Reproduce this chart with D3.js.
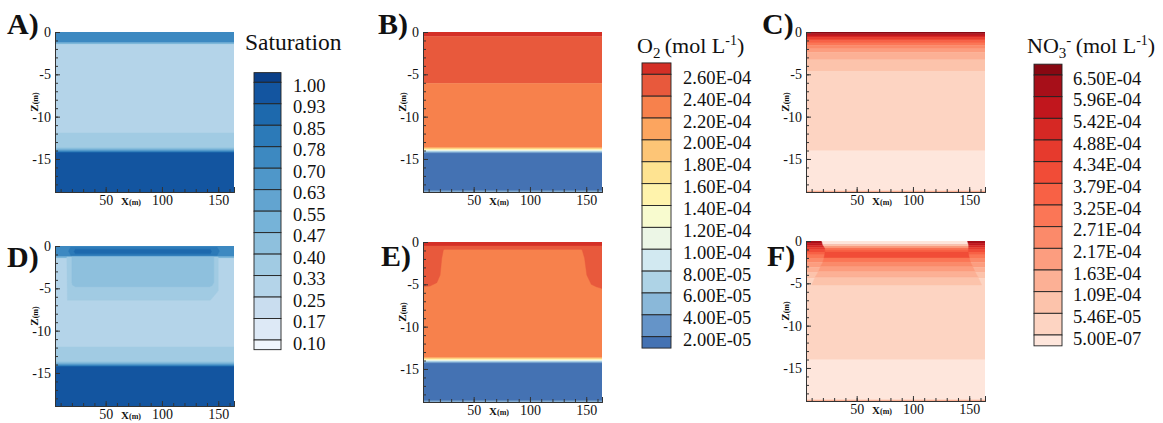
<!DOCTYPE html>
<html lang="en">
<head>
    <meta charset="utf-8">
    <title>Saturation, O2 and NO3 profiles</title>
    <script type="text/javascript" src="https://d3js.org/d3.v7.min.js"></script>
    <style type="text/css">
        body { margin: 0; background: #fff; }
        svg text { font-family: "Liberation Serif", "DejaVu Serif", "Times New Roman", serif !important; fill: #111; }
    </style>
</head>
<body>
    <script type="text/javascript">

        const width = 1163;
        const height = 423;
        const serif = '"Liberation Serif", "DejaVu Serif", serif';

        const xDomain = [5, 164];
        const zDomain = [-18.9, 0];
        const panelW = 179, panelH = 160;

        // legend levels (top to bottom, as printed)
        const satLabels = ["1.00", "0.93", "0.85", "0.78", "0.70", "0.63", "0.55", "0.47", "0.40", "0.33", "0.25", "0.17", "0.10"];
        const o2Labels = ["2.60E-04", "2.40E-04", "2.20E-04", "2.00E-04", "1.80E-04", "1.60E-04", "1.40E-04", "1.20E-04", "1.00E-04", "8.00E-05", "6.00E-05", "4.00E-05", "2.00E-05"];
        const no3Labels = ["6.50E-04", "5.96E-04", "5.42E-04", "4.88E-04", "4.34E-04", "3.79E-04", "3.25E-04", "2.71E-04", "2.17E-04", "1.63E-04", "1.09E-04", "5.46E-05", "5.00E-07"];

        // fill colours, lowest class first
        const satColors = ["#f1f6fc", "#dde9f6", "#c9ddef", "#b4d4e9", "#a1cbe3", "#8ec0dd", "#76b3d8", "#62a4d0", "#4f97c9", "#3d89c1", "#2c7ab8", "#1d69ad", "#1355a0", "#0a3f88"];
        const o2Colors = ["#4472b3", "#6594c8", "#8ab8d9", "#aed3e6", "#d2e9f1", "#ecf6e6", "#f8fbcf", "#fff3ac", "#fee391", "#fdc576", "#fca55f", "#f7814c", "#e8593c", "#d42f26"];
        const no3Colors = ["#fee6dc", "#fdd4c2", "#fcc3ab", "#fcb095", "#fc9d7f", "#fb8a6a", "#fb7656", "#f86145", "#f14c37", "#e63a2d", "#d62824", "#c1161d", "#a70f19", "#880812"];

        // depth layers: top of each band (m) and the value in it
        const satA_z = [0, -1.2, -1.3, -1.38, -1.46, -11.9, -13.65, -13.75, -13.85, -13.95, -14.05, -14.15, -14.25];
        const satA_v = [0.74, 0.60, 0.50, 0.43, 0.30, 0.36, 0.43, 0.50, 0.58, 0.66, 0.74, 0.88, 0.97];

        const o2B_z = [0, -0.5, -6.05, -13.6, -13.7, -13.77, -13.84, -13.9, -13.96, -14.02, -14.08, -14.14, -14.2, -14.3, -18.75, -18.85];
        const o2B_v = [2.65e-4, 2.5e-4, 2.3e-4, 2.1e-4, 1.9e-4, 1.7e-4, 1.5e-4, 1.3e-4, 1.1e-4, 9e-5, 7e-5, 5e-5, 3e-5, 1e-5, 6e-5, 1e-5];

        const no3C_z = [0, -0.15, -0.3, -0.45, -0.6, -0.8, -1.0, -1.25, -1.55, -1.95, -2.4, -3.25, -4.6, -14.0, -18.75];
        const no3C_v = [6.6e-4, 6.2e-4, 5.7e-4, 5.1e-4, 4.6e-4, 4.1e-4, 3.5e-4, 3.0e-4, 2.4e-4, 1.9e-4, 1.4e-4, 8e-5, 3e-5, 1e-7, 1.4e-4];

        const satD_z = satA_z;
        const satD_v = satA_v;
        const satD_patches = [
            { v: 0.36, pts: [[15.5, -1.3], [150, -1.3], [150, -5.3], [143, -6.4], [16, -6.4]] },
            { v: 0.44, pts: [[20, -1.3], [146, -1.3], [146, -4.3], [144.5, -4.7], [142, -4.8], [23, -4.8], [20.5, -4.6], [20, -4.3]] },
            { v: 0.81, pts: [[19, -0.15], [149, -0.15], [151, -0.6], [149, -1.1], [19, -1.1], [17, -0.6]] },
            { v: 0.88, pts: [[23, -0.4], [143, -0.4], [144, -0.65], [143, -0.9], [23, -0.9], [22, -0.65]] }
        ];

        const o2E_z = [0, -0.45, -0.9, -13.6, -13.7, -13.77, -13.84, -13.9, -13.96, -14.02, -14.08, -14.14, -14.2, -14.3, -18.75, -18.85];
        const o2E_v = [2.65e-4, 2.5e-4, 2.3e-4, 2.1e-4, 1.9e-4, 1.7e-4, 1.5e-4, 1.3e-4, 1.1e-4, 9e-5, 7e-5, 5e-5, 3e-5, 1e-5, 6e-5, 1e-5];
        const o2E_patches = [
            { v: 2.5e-4, pts: [[5, -0.6], [24, -0.6], [23, -1.0], [21.7, -1.9], [20.2, -3.9], [17.3, -4.8], [11.3, -5.2], [5, -5.3]] },
            { v: 2.5e-4, pts: [[145, -0.6], [164, -0.6], [164, -5.5], [158.9, -5.3], [154.4, -5.0], [150.5, -3.9], [148.5, -1.9], [146.4, -0.95]] }
        ];

        // F: profile at the side walls, then the band structure in the middle
        const no3F_z = [0, -0.25, -0.5, -0.75, -1.0, -1.3, -1.6, -2.0, -2.5, -3.1, -3.7, -4.4, -14.0, -18.75];
        const no3F_v = [6.2e-4, 5.7e-4, 5.1e-4, 4.6e-4, 4.1e-4, 3.5e-4, 3.0e-4, 2.4e-4, 1.9e-4, 1.4e-4, 8e-5, 3e-5, 1e-7, 1.4e-4];
        const no3Fmid_z = [0, -0.45, -0.65, -0.85, -1.05, -1.3, -2.0, -2.5, -3.0, -3.6, -4.3, -5.2];
        const no3Fmid_v = [1e-7, 8e-5, 1.9e-4, 3.0e-4, 3.5e-4, 4.1e-4, 3.0e-4, 2.4e-4, 1.9e-4, 1.4e-4, 8e-5];
        const no3Fmid_xl = [19, 20, 21, 22, 22, 22, 21, 20, 18, 16, 13, 10];
        const no3Fmid_xr = [148, 149, 149, 149, 149, 149, 150, 151, 153, 155, 158, 161];

        const no3F_patches = no3Fmid_v.map((v, i) => ({
            v: v,
            pts: [[no3Fmid_xl[i], no3Fmid_z[i]], [no3Fmid_xr[i], no3Fmid_z[i]],
                  [no3Fmid_xr[i + 1], no3Fmid_z[i + 1]], [no3Fmid_xl[i + 1], no3Fmid_z[i + 1]]]
        }));

        // Colour scales
        const satColor = d3.scaleThreshold().domain(satLabels.map(Number).reverse()).range(satColors);
        const o2Color = d3.scaleThreshold().domain(o2Labels.map(Number).reverse()).range(o2Colors);
        const no3Color = d3.scaleThreshold().domain(no3Labels.map(Number).reverse()).range(no3Colors);

        const panels = [
            { name: "A", left: 55, top: 32, labelX: 7, labelY: 34, color: satColor, z: satA_z, v: satA_v, patches: [] },
            { name: "B", left: 423, top: 32, labelX: 378, labelY: 34, color: o2Color, z: o2B_z, v: o2B_v, patches: [] },
            { name: "C", left: 806, top: 32, labelX: 762, labelY: 34, color: no3Color, z: no3C_z, v: no3C_v, patches: [] },
            { name: "D", left: 55, top: 246, labelX: 7, labelY: 267, color: satColor, z: satD_z, v: satD_v, patches: satD_patches },
            { name: "E", left: 423, top: 242, labelX: 381, labelY: 266, color: o2Color, z: o2E_z, v: o2E_v, patches: o2E_patches },
            { name: "F", left: 806, top: 241, labelX: 767, labelY: 266, color: no3Color, z: no3F_z, v: no3F_v, patches: no3F_patches }
        ];

        // SVG
        const svg = d3.select("body")
                    .append("svg")
                    .attr("width", width)
                    .attr("height", height)
                    .attr("font-family", serif);

        panels.forEach(p => {
            const xScale = d3.scaleLinear().domain(xDomain).range([p.left, p.left + panelW]);
            const yScale = d3.scaleLinear().domain(zDomain).range([p.top + panelH, p.top]);

            svg.append("clipPath").attr("id", "clip" + p.name)
                .append("rect")
                .attr("x", p.left).attr("y", p.top)
                .attr("width", panelW).attr("height", panelH);

            const g = svg.append("g").attr("clip-path", `url(#clip${p.name})`);

            const bands = p.z.map((t, i) => ({ top: t, bot: i < p.z.length - 1 ? p.z[i + 1] : zDomain[0], v: p.v[i] }));

            g.selectAll("rect")
                .data(bands)
                .enter()
                .append("rect")
                .attr("x", xScale(xDomain[0]))
                .attr("width", xScale(xDomain[1]) - xScale(xDomain[0]))
                .attr("y", d => yScale(d.top))
                .attr("height", d => yScale(d.bot) - yScale(d.top) + 0.4)
                .attr("fill", d => p.color(d.v));

            const line = d3.line()
                .x(d => xScale(d[0]))
                .y(d => yScale(d[1]))
                .curve(d3.curveLinearClosed);

            g.selectAll("path")
                .data(p.patches)
                .enter()
                .append("path")
                .attr("d", d => line(d.pts))
                .attr("fill", d => p.color(d.v))
                .attr("stroke", d => p.color(d.v))
                .attr("stroke-width", 0.4);

            // Axes (ticks point inwards)
            const yAxis = d3.axisLeft(yScale).tickValues([0, -5, -10, -15]).tickSize(-5).tickPadding(4).tickFormat(d => String(d));
            const yMinor = d3.axisLeft(yScale).tickValues(d3.range(0, -19, -1)).tickSize(-3).tickFormat("");
            const xAxis = d3.axisBottom(xScale).tickValues([50, 100, 150]).tickSize(-5).tickPadding(3);
            const xMinor = d3.axisBottom(xScale).tickValues(d3.range(10, 170, 10)).tickSize(-3).tickFormat("");

            [[yMinor, "l"], [yAxis, "l"], [xMinor, "b"], [xAxis, "b"]].forEach(([ax, side]) => {
                const a = svg.append("g")
                    .attr("transform", side === "l" ? `translate(${p.left},0)` : `translate(0,${p.top + panelH})`)
                    .call(ax)
                    .attr("font-family", serif)
                    .attr("font-size", 14);
                a.selectAll("path.domain").attr("stroke", "#333");
                a.selectAll("line").attr("stroke", "#333");
                a.selectAll("text").attr("fill", "#111");
            });

            // Axis titles
            const xt = svg.append("text")
                .attr("x", p.left + 76)
                .attr("y", p.top + panelH + 13)
                .attr("text-anchor", "middle")
                .attr("font-weight", "bold")
                .attr("font-size", 11);
            xt.append("tspan").text("X");
            xt.append("tspan").attr("font-size", 8).text("(m)");

            const zt = svg.append("text")
                .attr("transform", `translate(${p.left - 17},${p.top + 70}) rotate(-90)`)
                .attr("text-anchor", "middle")
                .attr("font-weight", "bold")
                .attr("font-size", 11);
            zt.append("tspan").text("Z");
            zt.append("tspan").attr("font-size", 8).text("(m)");

            // Panel letter
            svg.append("text")
                .attr("x", p.labelX)
                .attr("y", p.labelY)
                .attr("font-weight", "bold")
                .attr("font-size", 30)
                .text(p.name + ")");
        });

        // Legends
        const legends = [
            { labels: satLabels, colors: satColors, boxX: 254, boxW: 27, first: 82.3, last: 340, ext: 0.45, textX: 293 },
            { labels: o2Labels, colors: o2Colors, boxX: 642, boxW: 29, first: 74.3, last: 336.7, ext: 0.52, textX: 683 },
            { labels: no3Labels, colors: no3Colors, boxX: 1034, boxW: 28, first: 75, last: 335, ext: 0.5, textX: 1073 }
        ];

        legends.forEach(L => {
            const n = L.labels.length;
            const ly = d3.scaleLinear().domain([0, n - 1]).range([L.first, L.last]);
            const cells = d3.range(n + 1).map(k => ({
                y0: k === 0 ? ly(-L.ext) : ly(k - 1),
                y1: k === n ? ly(n - 1 + L.ext) : ly(k),
                c: L.colors[n - k]
            }));
            svg.append("g").selectAll("rect")
                .data(cells)
                .enter()
                .append("rect")
                .attr("x", L.boxX)
                .attr("width", L.boxW)
                .attr("y", d => d.y0)
                .attr("height", d => d.y1 - d.y0)
                .attr("fill", d => d.c)
                .attr("stroke", "#222")
                .attr("stroke-width", 0.9);

            svg.append("g").selectAll("text")
                .data(L.labels)
                .enter()
                .append("text")
                .attr("x", L.textX)
                .attr("y", (d, i) => ly(i) + 9.5)
                .attr("font-size", 18.5)
                .text(d => d);
        });

        // Legend titles
        svg.append("text")
            .attr("x", 245).attr("y", 50)
            .attr("font-size", 23.5)
            .text("Saturation");

        const o2t = svg.append("text").attr("x", 637).attr("y", 53).attr("font-size", 22);
        o2t.append("tspan").text("O");
        o2t.append("tspan").attr("dy", 5).attr("font-size", 15).text("2");
        o2t.append("tspan").attr("dy", -5).text("\u2009(mol L");
        o2t.append("tspan").attr("dy", -8).attr("font-size", 14).text("-1");
        o2t.append("tspan").attr("dy", 8).text(")");

        const no3t = svg.append("text").attr("x", 1027).attr("y", 53).attr("font-size", 22);
        no3t.append("tspan").text("NO");
        no3t.append("tspan").attr("dy", 5).attr("font-size", 15).text("3");
        no3t.append("tspan").attr("dy", -13).attr("font-size", 15).text("-");
        no3t.append("tspan").attr("dy", 8).text("\u2009(mol L");
        no3t.append("tspan").attr("dy", -8).attr("font-size", 14).text("-1");
        no3t.append("tspan").attr("dy", 8).text(")");

    </script>
</body>
</html>
